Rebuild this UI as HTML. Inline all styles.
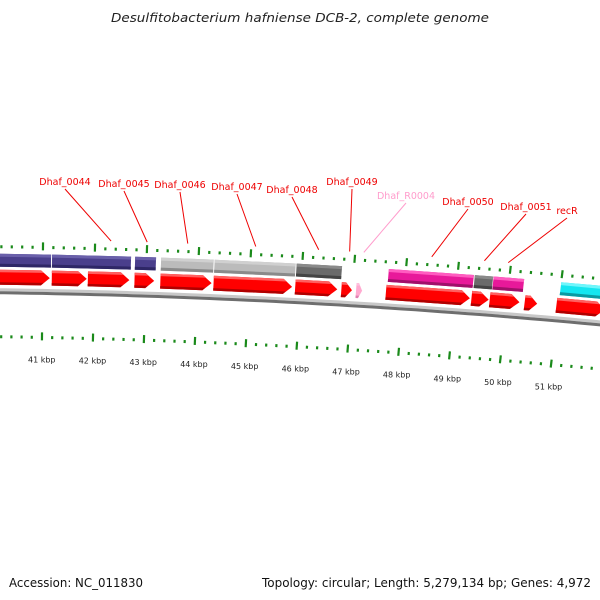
<!DOCTYPE html>
<html><head><meta charset="utf-8"><style>
html,body{margin:0;padding:0;background:#fff;}
svg{display:block;font-family:"DejaVu Sans","Liberation Sans",sans-serif;}
</style></head><body>
<svg id="chart" width="600" height="600" viewBox="0 0 600 600">
<text x="300" y="22" text-anchor="middle" font-style="italic" font-size="12.5" fill="#222" textLength="378" lengthAdjust="spacingAndGlyphs">Desulfitobacterium hafniense DCB-2, complete genome</text>
<g id="ticks"></g><g id="backbone"></g><g id="feats"></g><g id="cds"></g><g id="labels"></g>
<text x="9" y="587" font-size="12" fill="#111" textLength="134" lengthAdjust="spacingAndGlyphs">Accession: NC_011830</text>
<text x="262" y="587" font-size="12" fill="#111" textLength="329" lengthAdjust="spacingAndGlyphs">Topology: circular; Length: 5,279,134 bp; Genes: 4,972</text>
</svg>
<script>
// data (kbp)
const tickKbp = [41,42,43,44,45,46,47,48,49,50,51];
const featStart = [40.116,41.177,42.779,43.280,44.311,45.893,47.672,49.333,49.696,51.003];
const featEnd   = [41.157,42.700,43.181,44.292,45.874,46.768,49.313,49.686,50.286,51.907];
const featColor = ["#4a3f8c","#4a3f8c","#4a3f8c","#bbbbbb","#bbbbbb","#6a6a6a","#e8199a","#6a6a6a","#e8199a","#14e6f0"];
const cdsStart = [40.116,41.177,41.875,42.779,43.280,44.311,45.893,46.788,47.073,47.652,49.313,49.667,50.345,50.963];
const cdsEnd   = [41.138,41.855,42.680,43.161,44.272,45.834,46.709,46.994,47.191,49.283,49.647,50.246,50.590,51.907];
const cdsColor = ["red","red","red","red","red","red","red","red","pink","red","red","red","red","red"];
const geneNames = ["Dhaf_0044","Dhaf_0045","Dhaf_0046","Dhaf_0047","Dhaf_0048","Dhaf_0049","Dhaf_R0004","Dhaf_0050","Dhaf_0051","recR"];
const geneKbp = [42.307,43.000,43.780,45.087,46.297,46.892,47.165,48.472,49.486,49.945];
const labelX = [65,124,180,237,292,352,406,468,526,567];
const labelY = [185,187,188,190,193,185,199,205,210,214];

const NS="http://www.w3.org/2000/svg";
const R=7612, CX=-104, CY=245+R;
function P(k,off){const r=R-off;const pxk=52-off*0.0111;const s=147-off/90+(k-41)*pxk;const th=s/r;return [CX+r*Math.sin(th),CY-r*Math.cos(th)];}
function mk(tag,attrs,parent){const e=document.createElementNS(NS,tag);for(const a in attrs)e.setAttribute(a,attrs[a]);parent.appendChild(e);return e;}
const gT=document.getElementById('ticks'),gB=document.getElementById('backbone'),gF=document.getElementById('feats'),gC=document.getElementById('cds'),gL=document.getElementById('labels');

for(let i=0;i<=66;i++){
  const k=39.8+i*0.2; const major=Math.abs(k-Math.round(k))<0.01;
  [0,90].forEach(off=>{
    const h=major?8:3;
    const a=P(k,off+1-h/2-(major?1:0)),b=P(k,off+1+h/2-(major?1:0));
    const l=mk('line',{x1:a[0],y1:a[1],x2:b[0],y2:b[1],stroke:'#1a8a1a','stroke-width':2.2},gT);
    
    
  });
}
tickKbp.forEach(k=>{
  const p=P(k,112);
  const t=mk('text',{x:p[0],y:p[1]+4,'text-anchor':'middle','font-size':'8',fill:'#222'},gT);
  t.textContent=k+' kbp';
  
  
});

function arcPath(off){let d='';for(let k=39.5;k<=52.5;k+=0.25){const p=P(k,off);d+=(d?'L':'M')+p[0].toFixed(1)+' '+p[1].toFixed(1);}return d;}
let bb=mk('path',{d:arcPath(44),fill:'none',stroke:'#c8c8c8','stroke-width':3},gB);


let bb2=mk('path',{d:arcPath(47),fill:'none',stroke:'#6e6e6e','stroke-width':3},gB);



function shade(c){const m={"#4a3f8c":["#6a60aa","#2e2766"],"#bbbbbb":["#d0d0d0","#8a8a8a"],"#6a6a6a":["#8a8a8a","#444"],"#e8199a":["#ff5cc0","#a0106a"],"#14e6f0":["#70f6fb","#0a9aa2"],"red":["#ff6060","#b00000"],"pink":["#ffc0dd","#e080b0"]};return m[c];}
function quad(k1,k2,o1,o2){return [P(k1,o1),P(k2,o1),P(k2,o2),P(k1,o2)];}
function poly(pts){return pts.map(p=>p[0].toFixed(1)+','+p[1].toFixed(1)).join(' ');}

featStart.forEach((s,i)=>{
  const e=featEnd[i],c=featColor[i],sh=shade(c);
  let p=mk('polygon',{points:poly(quad(s,e,8,21)),fill:c},gF);
  
  
  let hl=mk('polygon',{points:poly(quad(s,e,8,11)),fill:sh[0]},gF);
  
  
  let dk=mk('polygon',{points:poly(quad(s,e,18,21)),fill:sh[1]},gF);
  
  
});

cdsStart.forEach((s,i)=>{
  const e=cdsEnd[i],c=cdsColor[i],sh=shade(c),col=c==='red'?'#ff0000':'#ffaad0';
  const tip=Math.min(0.17,(e-s)*0.6),m=e-tip;
  const pts=[P(s,24),P(m,24),P(e,31.5),P(m,39),P(s,39)];
  let p=mk('polygon',{points:poly(pts),fill:col},gC);
  
  
  let hl=mk('polygon',{points:poly([P(s,24),P(m,24),P(m+tip*0.3,26.5),P(s,26.5)]),fill:sh[0]},gC);
  
  
  let dk=mk('polygon',{points:poly([P(s,36.5),P(m+tip*0.3,36.5),P(m,39),P(s,39)]),fill:sh[1]},gC);
  
  
});

geneNames.forEach((n,i)=>{
  const col=n==='Dhaf_R0004'?'#ff9ccc':'#ee0000';
  const a=P(geneKbp[i],-7);
  let l=mk('line',{x1:labelX[i],y1:labelY[i]+4,x2:a[0],y2:a[1],stroke:col,'stroke-width':1},gL);
  
  
  let t=mk('text',{x:labelX[i],y:labelY[i],'text-anchor':'middle','font-size':'9.5',fill:col},gL);
  t.textContent=n;
  
  
});
</script>
</body></html>
